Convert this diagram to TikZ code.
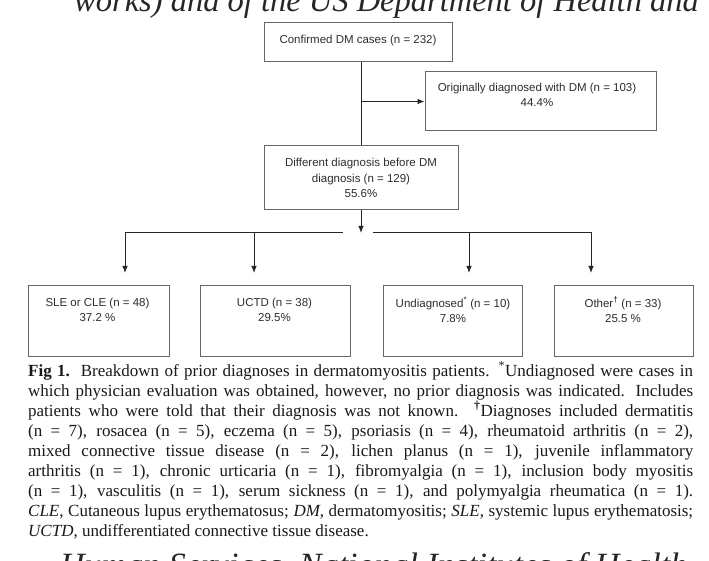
\documentclass[tikz,border=0pt]{standalone}
\usepackage{fontspec}
\setmainfont{Liberation Serif}
\newfontfamily\arialf{Liberation Sans}
\usetikzlibrary{arrows.meta}
\begin{document}
\begin{tikzpicture}[x=1pt,y=-1pt,
  box/.style={draw=black!60, line width=1pt, inner sep=0pt},
  btext/.style={font=\arialf\fontsize{11.5}{15.5}\selectfont, text=black!82, align=center, inner sep=0pt},
  conn/.style={draw=black!85, line width=0.9pt},
  arr/.style={conn, -{Latex[length=7pt,width=5.5pt]}},
  cut/.style={font=\itshape\fontsize{32.5}{34}\selectfont, text=black!85, inner sep=0pt, anchor=base west},
]
\useasboundingbox (0,0) rectangle (709,561);
\clip (0,0) rectangle (709,561);
\fill[white] (0,0) rectangle (709,561);

% cut-off page text
\node[cut] (toptxt) at (74,12) {works) and of the US Department of Health and};
\node[cut, font=\itshape\fontsize{34}{34}\selectfont] (bottxt) at (60,576) {Human Services, National Institutes of Health};

% boxes
\node[box, minimum width=188pt, minimum height=39pt] (top) at (358,42.5) {};
\node[box, minimum width=231pt, minimum height=59pt] (orig) at (540.5,101.5) {};
\node[box, minimum width=194pt, minimum height=64pt] (diff) at (361,178) {};
\node[box, minimum width=141pt, minimum height=71pt] (sle) at (98.5,320.5) {};
\node[box, minimum width=150pt, minimum height=71pt] (uctd) at (275,320.5) {};
\node[box, minimum width=139pt, minimum height=71pt] (und) at (452.5,320.5) {};
\node[box, minimum width=139pt, minimum height=71pt] (oth) at (623.5,320.5) {};

% box texts
\node[btext] (topT) at (358,41) {Confirmed DM cases (n = 232)};
\node[btext] (origT) at (537,95) {Originally diagnosed with DM (n = 103)\\44.4\%};
\node[btext] (diffT) at (361,178) {Different diagnosis before DM\\diagnosis (n = 129)\\55.6\%};
\node[btext] (sleT) at (97.5,310) {SLE or CLE (n = 48)\\37.2 \%};
\node[btext] (uctdT) at (274.5,310) {UCTD (n = 38)\\29.5\%};
\node[btext] (undT) at (453,310) {Undiagnosed\textsuperscript{*} (n = 10)\\7.8\%};
\node[btext] (othT) at (623,310) {Other\textsuperscript{\textbf{\dag}} (n = 33)\\25.5 \%};

% connectors
\coordinate (br) at (diff.north |- orig.west);
\draw[conn] (top.south -| diff.north) -- (diff.north);
\draw[arr] (br) -- (orig.west);
\coordinate (hub) at (361,233);
\draw[arr] (diff.south) -- (hub);
\coordinate (gapL) at (343,232);
\coordinate (gapR) at (373,232);
\coordinate (h1) at (125,232);
\coordinate (h2) at (254,232);
\coordinate (h3) at (469,232);
\coordinate (h4) at (591,232);
\coordinate (t1) at (125,273);
\coordinate (t2) at (254,273);
\coordinate (t3) at (469,273);
\coordinate (t4) at (591,273);
\draw[arr] (gapL) -- (h1) -- (t1);
\draw[arr] (h2) -- (t2);
\draw[arr] (gapR) -- (h4) -- (t4);
\draw[arr] (h3) -- (t3);

% caption
\node[anchor=north west, inner sep=0pt, text width=665pt, align=justify,
      font=\fontsize{17}{20}\selectfont, text=black!90] (cap) at (28,362)
{\textbf{Fig 1.}\ \ Breakdown of prior diagnoses in dermatomyositis patients. \textsuperscript{*}Undiagnosed were cases in\linebreak
which physician evaluation was obtained, however, no prior diagnosis was indicated. Includes\linebreak
patients who were told that their diagnosis was not known. \textsuperscript{\textbf{\dag}}Diagnoses included dermatitis\linebreak
(n = 7), rosacea (n = 5), eczema (n = 5), psoriasis (n = 4), rheumatoid arthritis (n = 2),\linebreak
mixed connective tissue disease (n = 2), lichen planus (n = 1), juvenile inflammatory\linebreak
arthritis (n = 1), chronic urticaria (n = 1), fibromyalgia (n = 1), inclusion body myositis\linebreak
(n = 1), vasculitis (n = 1), serum sickness (n = 1), and polymyalgia rheumatica (n = 1).\linebreak
\textit{CLE}, Cutaneous lupus erythematosus; \textit{DM}, dermatomyositis; \textit{SLE}, systemic lupus erythematosis;\linebreak
\textit{UCTD}, undifferentiated connective tissue disease.};
\end{tikzpicture}
\end{document}
